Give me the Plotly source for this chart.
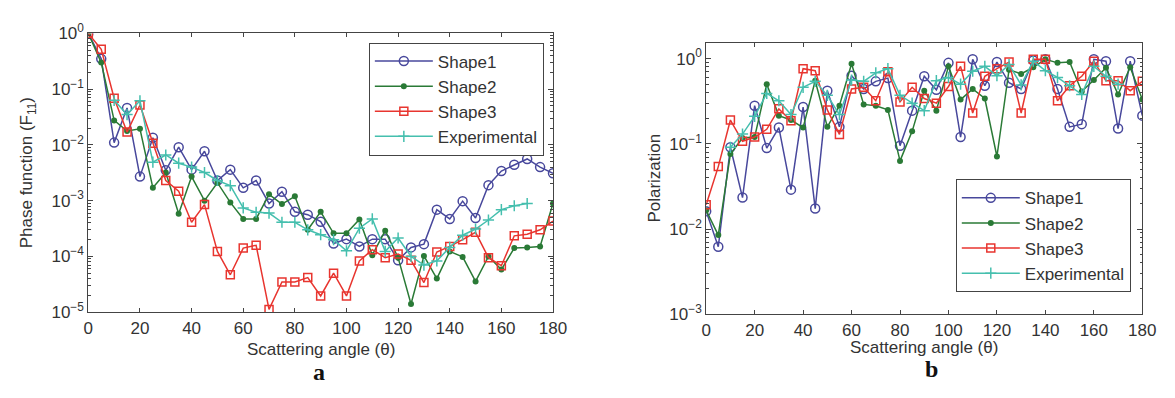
import plotly.graph_objects as go

# ---------------- data ----------------
angles = [0, 5, 10, 15, 20, 25, 30, 35, 40, 45, 50, 55, 60, 65, 70, 75, 80, 85, 90,
          95, 100, 105, 110, 115, 120, 125, 130, 135, 140, 145, 150, 155, 160, 165, 170, 175, 180]
exp_angles = [10, 15, 20, 25, 30, 35, 40, 45, 50, 55, 60, 65, 70, 75, 80, 85, 90,
              95, 100, 105, 110, 115, 120, 125, 130, 135, 140, 145, 150, 155, 160, 165, 170]

# Phase function F11 (panel a)
f11_shape1 = [1.0, 0.35, 0.011, 0.046, 0.0027, 0.0135, 0.0035, 0.0091, 0.0036, 0.0077,
              0.0023, 0.0036, 0.0017, 0.0023, 0.00089, 0.00145, 0.00063, 0.00056, 0.00042,
              0.00017, 0.000204, 0.000151, 0.000204, 0.000204, 0.000085, 0.000145, 0.000166,
              0.00069, 0.00047, 0.00098, 0.00049, 0.0019, 0.0034, 0.0044, 0.0056, 0.0040, 0.0031]
f11_shape2 = [1.0, 0.30, 0.0275, 0.0178, 0.0195, 0.0017, 0.0032, 0.00058, 0.0027, 0.0010,
              0.0021, 0.00093, 0.00047, 0.00047, 0.0013, 0.00087, 0.0012, 0.00030, 0.00063,
              0.00026, 0.00026, 0.00046, 0.000105, 0.00029, 0.000095, 0.000014, 0.000102,
              0.00004, 0.000123, 0.000098, 0.0000355, 0.0001, 0.000058, 0.000141, 0.000145,
              0.000151, 0.00089]
f11_shape3 = [1.0, 0.52, 0.069, 0.017, 0.052, 0.0107, 0.0023, 0.00148, 0.00041, 0.00085,
              0.000123, 0.0000468, 0.000141, 0.000158, 0.0000112, 0.0000347, 0.0000347,
              0.0000417, 0.0000195, 0.00005, 0.0000195, 0.000083, 0.000132, 0.000095, 0.00011,
              0.000085, 0.000034, 0.00012, 0.000151, 0.0002, 0.00027, 0.000095, 0.000068,
              0.000234, 0.00025, 0.0003, 0.00043]
f11_exp = [0.063, 0.035, 0.062, 0.0049, 0.0066, 0.0047, 0.004, 0.0032, 0.0023, 0.00186,
           0.00074, 0.00062, 0.0006, 0.00041, 0.00041, 0.0003, 0.000245, 0.0002, 0.000126,
           0.00032, 0.00047, 0.000123, 0.000214, 0.0001, 0.00007, 0.000083, 0.000145, 0.00024,
           0.00031, 0.00045, 0.00069, 0.00081, 0.00089]

# Polarization (panel b)
pol_shape1 = [0.0162, 0.0062, 0.091, 0.0234, 0.28, 0.089, 0.155, 0.029, 0.27, 0.0174,
              0.42, 0.158, 0.63, 0.44, 0.54, 0.59, 0.095, 0.245, 0.62, 0.43, 0.89, 0.12,
              0.98, 0.48, 0.91, 0.52, 0.44, 0.95, 0.98, 0.44, 0.158, 0.17, 0.98, 0.93,
              0.151, 0.93, 0.214]
pol_shape2 = [0.0166, 0.0085, 0.076, 0.117, 0.12, 0.50, 0.214, 0.19, 0.155, 0.55,
              0.158, 0.28, 0.87, 0.29, 0.28, 0.25, 0.063, 0.14, 0.42, 0.245, 0.81, 0.33,
              0.44, 0.34, 0.071, 0.74, 0.66, 0.79, 0.98, 0.89, 0.91, 0.41, 0.56, 0.78,
              0.38, 0.79, 0.33]
pol_shape3 = [0.0193, 0.054, 0.19, 0.107, 0.12, 0.148, 0.257, 0.186, 0.76, 0.72,
              0.25, 0.129, 0.44, 0.46, 0.32, 0.70, 0.31, 0.46, 0.34, 0.30, 0.47, 0.81,
              0.23, 0.62, 0.76, 0.91, 0.23, 0.98, 0.98, 0.32, 0.48, 0.62, 0.93, 0.55,
              0.55, 0.42, 0.54]
pol_exp = [0.091, 0.13, 0.21, 0.39, 0.32, 0.22, 0.46, 0.54, 0.37, 0.22, 0.56, 0.54, 0.68,
           0.76, 0.37, 0.30, 0.245, 0.55, 0.60, 0.50, 0.71, 0.81, 0.63, 0.85, 0.49, 0.93,
           0.72, 0.60, 0.48, 0.38, 0.81, 0.62, 0.50]

series_names = ["Shape1", "Shape2", "Shape3", "Experimental"]
x_ticks = [0, 20, 40, 60, 80, 100, 120, 140, 160, 180]
f11_ticks = [1e-5, 1e-4, 1e-3, 1e-2, 1e-1, 1]
f11_ticktext = ["10<sup>−5</sup>", "10<sup>−4</sup>", "10<sup>−3</sup>",
                "10<sup>−2</sup>", "10<sup>−1</sup>", "10<sup>0</sup>"]
pol_ticks = [1e-3, 1e-2, 1e-1, 1]
pol_ticktext = ["10<sup>−3</sup>", "10<sup>−2</sup>", "10<sup>−1</sup>", "10<sup>0</sup>"]

# ---------------- styles ----------------
C1 = "#48489c"
C2 = "#2a7a36"
C3 = "#e8352f"
C4 = "#45bfae"
FONT = "Liberation Sans, Arial, Helvetica, sans-serif"
SERIF = "Liberation Serif, Times New Roman, serif"
TXT = "#333333"
AX = "#444444"
FS = 17

styles = [
    dict(color=C1, marker=dict(symbol="circle-open", size=9, color=C1, line=dict(width=1.5, color=C1))),
    dict(color=C2, marker=dict(symbol="circle", size=6, color=C2)),
    dict(color=C3, marker=dict(symbol="square-open", size=8, color=C3, line=dict(width=1.5, color=C3))),
    dict(color=C4, marker=dict(symbol="cross-thin", size=8, color=C4, line=dict(width=1.5, color=C4))),
]

fig = go.Figure()

left = [(angles, f11_shape1), (angles, f11_shape2), (angles, f11_shape3), (exp_angles, f11_exp)]
right = [(angles, pol_shape1), (angles, pol_shape2), (angles, pol_shape3), (exp_angles, pol_exp)]

for (xs, ys), name, st in zip(left, series_names, styles):
    fig.add_trace(go.Scatter(x=xs, y=ys, name=name, mode="lines+markers",
                             line=dict(color=st["color"], width=1.5), marker=st["marker"],
                             xaxis="x", yaxis="y", legend="legend"))
for (xs, ys), name, st in zip(right, series_names, styles):
    fig.add_trace(go.Scatter(x=xs, y=ys, name=name, mode="lines+markers",
                             line=dict(color=st["color"], width=1.5), marker=st["marker"],
                             xaxis="x2", yaxis="y2", legend="legend2"))

W, H = 1175, 398
ldom_x = [84.7 / W, 557 / W]
ldom_y = [1 - 317.7 / H, 1 - 22.7 / H]
rdom_x = [712.7 / W, 1156 / W]
rdom_y = [1 - 320 / H, 1 - 33.3 / H]

minor_f11 = [m * 10 ** e for e in range(-5, 0) for m in range(2, 10)]
minor_pol = [m * 10 ** e for e in range(-3, 1) for m in range(2, 10)]

xcommon = dict(range=[0, 180], tickvals=x_ticks, ticks="inside", ticklen=4, tickcolor=AX,
               showline=True, linecolor=AX, linewidth=1, mirror="ticks", showgrid=False,
               zeroline=False, tickfont=dict(family=FONT, size=FS, color=TXT))
ycommon = dict(type="log", ticks="inside", ticklen=5, tickcolor=AX, showline=True,
               linecolor=AX, linewidth=1, mirror="ticks", showgrid=False, zeroline=False,
               tickfont=dict(family=FONT, size=FS, color=TXT))

def ann(text, x, y, size=FS, angle=0, family=FONT, color=TXT):
    return dict(text=text, x=x / W, y=1 - y / H, xref="paper", yref="paper",
                showarrow=False, textangle=angle, xanchor="center", yanchor="middle",
                font=dict(family=family, size=size, color=color))

legend_common = dict(bgcolor="white", bordercolor=AX, borderwidth=1,
                     font=dict(family=FONT, size=FS, color=TXT), tracegroupgap=0, itemwidth=58)

fig.update_layout(
    width=W, height=H, margin=dict(l=0, r=0, t=0, b=0),
    paper_bgcolor="white", plot_bgcolor="white",
    font=dict(family=FONT, color=TXT),
    xaxis=dict(domain=ldom_x, anchor="y", **xcommon),
    yaxis=dict(domain=ldom_y, anchor="x", range=[-5, 0], tickvals=f11_ticks, ticktext=f11_ticktext,
               minor=dict(tickvals=minor_f11, ticks="inside", ticklen=2.5, tickcolor=AX),
               **ycommon),
    xaxis2=dict(domain=rdom_x, anchor="y2", **xcommon),
    yaxis2=dict(domain=rdom_y, anchor="x2", range=[-3, 0.177], tickvals=pol_ticks, ticktext=pol_ticktext,
                minor=dict(tickvals=minor_pol, ticks="inside", ticklen=2.5, tickcolor=AX),
                **ycommon),
    legend=dict(x=547.7 / W, y=1 - 32.3 / H, xanchor="right", yanchor="top", **legend_common),
    legend2=dict(x=1144.3 / W, y=1 - 296.7 / H, xanchor="right", yanchor="bottom", **legend_common),
    annotations=[
        ann("Scattering angle (θ)", 320.8, 357),
        ann("Scattering angle (θ)", 934.3, 355),
        ann("Phase function (F<sub>11</sub>)", 23, 170, angle=-90),
        ann("Polarization", 660, 176, angle=-90),
        ann("<b>a</b>", 319, 381, size=24, family=SERIF, color="#111111"),
        ann("<b>b</b>", 942, 378, size=24, family=SERIF, color="#111111"),
    ],
)

fig.write_html("out.html")
